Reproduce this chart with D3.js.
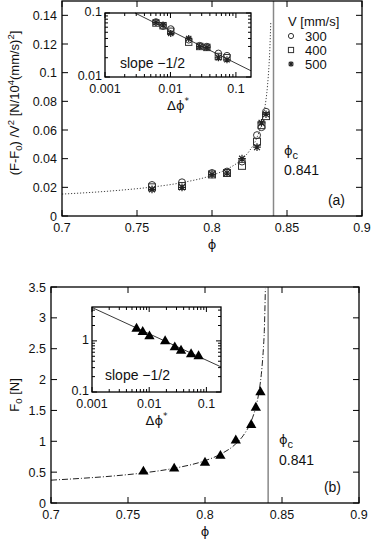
<!DOCTYPE html>
<html>
<head>
<meta charset="utf-8">
<script src="https://cdn.jsdelivr.net/npm/d3@7"></script>
<style>
  body { margin: 0; background: #fff; }
  svg { display: block; font-family: "Liberation Sans", Arial, sans-serif; }
  text { fill: #111; }
  .gr { font-family: "DejaVu Sans", sans-serif; }
</style>
</head>
<body>
<script>
// packing fraction of the runs
var phi = [0.76, 0.78, 0.80, 0.81, 0.82, 0.83, 0.833, 0.836];
// reduced distance to jamming, as plotted in the insets
var dphiStar = [0.073, 0.054, 0.036, 0.028, 0.019, 0.0101, 0.0077, 0.0060];
// (F-F0)/V^2 for the three speeds
var v300 = [0.0216, 0.0235, 0.030, 0.031, 0.038, 0.0564, 0.062, 0.0727];
var v400 = [0.0200, 0.0209, 0.029, 0.030, 0.035, 0.0518, 0.0634, 0.0697];
var v500 = [0.0186, 0.0200, 0.029, 0.030, 0.040, 0.0480, 0.065, 0.0710];
// F0 in N
var f0 = [0.525, 0.573, 0.67, 0.78, 1.03, 1.28, 1.56, 1.81];

// fitted curves
var fitPhi = [0.70, 0.72, 0.74, 0.76, 0.78, 0.80, 0.81, 0.82, 0.825, 0.83, 0.833, 0.835, 0.837, 0.838, 0.8385, 0.8392];
var fitA = [0.0153, 0.0165, 0.0181, 0.0202, 0.0233, 0.0284, 0.0327, 0.0397, 0.0455, 0.0548, 0.0643, 0.0742, 0.0909, 0.105, 0.115, 0.1355];
var fitB = [0.370, 0.400, 0.437, 0.488, 0.563, 0.686, 0.789, 0.959, 1.099, 1.325, 1.554, 1.794, 2.199, 2.537, 2.78, 3.47];
// slope -1/2 guide lines in the insets
var slopeA = [[0.00288, 0.1], [0.17, 0.0125]];
var slopeB = [[0.001, 4.5], [0.18, 0.31]];

var phiC = 0.841;
var xTicks = [0.7, 0.75, 0.8, 0.85, 0.9];
var xTickLabels = ["0.7", "0.75", "0.8", "0.85", "0.9"];
var yTicksA = [0, 0.02, 0.04, 0.06, 0.08, 0.1, 0.12, 0.14];
var yTickLabelsA = ["0", "0.02", "0.04", "0.06", "0.08", "0.1", "0.12", "0.14"];
var yTicksB = [0, 0.5, 1, 1.5, 2, 2.5, 3, 3.5];
var yTickLabelsB = ["0", "0.5", "1", "1.5", "2", "2.5", "3", "3.5"];
var speeds = ["300", "400", "500"];

var width = 373, height = 544;
var svg = d3.select("body").append("svg")
  .attr("width", width).attr("height", height);

var fs = 12.5;

function frame(g, x, y) {
  g.append("rect")
    .attr("x", x.range()[0]).attr("y", y.range()[1])
    .attr("width", x.range()[1] - x.range()[0])
    .attr("height", y.range()[0] - y.range()[1])
    .attr("fill", "none").attr("stroke", "#000").attr("stroke-width", 1.3);
}

function linearAxes(x, y, ylabels, yvals) {
  var g = svg.append("g");
  var x0 = x.range()[0], x1 = x.range()[1], y0 = y.range()[0], y1 = y.range()[1];
  // bottom + top ticks
  xTicks.forEach(function(t, i) {
    g.append("line").attr("x1", x(t)).attr("x2", x(t)).attr("y1", y0).attr("y2", y0 - 6).attr("stroke", "#000");
    g.append("line").attr("x1", x(t)).attr("x2", x(t)).attr("y1", y1).attr("y2", y1 + 6).attr("stroke", "#000");
    g.append("text").attr("x", x(t)).attr("y", y0 + 16).attr("text-anchor", "middle")
      .attr("font-size", fs).text(xTickLabels[i]);
  });
  yvals.forEach(function(t, i) {
    g.append("line").attr("x1", x0).attr("x2", x0 + 6).attr("y1", y(t)).attr("y2", y(t)).attr("stroke", "#000");
    g.append("line").attr("x1", x1).attr("x2", x1 - 6).attr("y1", y(t)).attr("y2", y(t)).attr("stroke", "#000");
    g.append("text").attr("x", x0 - 5).attr("y", y(t) + 4.5).attr("text-anchor", "end")
      .attr("font-size", fs).text(ylabels[i]);
  });
  // phi label
  g.append("text").attr("class", "gr").attr("x", (x0 + x1) / 2).attr("y", y0 + 33).attr("text-anchor", "middle")
    .attr("font-size", 13).text("ϕ");
  // jamming line
  g.append("line").attr("x1", x(phiC)).attr("x2", x(phiC)).attr("y1", y0).attr("y2", y1)
    .attr("stroke", "#888").attr("stroke-width", 1.5);
  frame(g, x, y);
  return g;
}

function logAxes(x, y, xlabs, ylabs) {
  var g = svg.append("g");
  var x0 = x.range()[0], x1 = x.range()[1], y0 = y.range()[0], y1 = y.range()[1];
  var xd = x.domain(), yd = y.domain();
  var minor = function(d) {
    var out = [];
    for (var e = Math.floor(Math.log10(d[0])); e <= Math.ceil(Math.log10(d[1])); e++) {
      for (var m = 1; m < 10; m++) {
        var v = m * Math.pow(10, e);
        if (v >= d[0] * 0.999 && v <= d[1] * 1.001) out.push({ v: v, major: m === 1 });
      }
    }
    return out;
  };
  minor(xd).forEach(function(t) {
    var L = t.major ? 5 : 3;
    g.append("line").attr("x1", x(t.v)).attr("x2", x(t.v)).attr("y1", y0).attr("y2", y0 - L).attr("stroke", "#000");
    g.append("line").attr("x1", x(t.v)).attr("x2", x(t.v)).attr("y1", y1).attr("y2", y1 + L).attr("stroke", "#000");
  });
  minor(yd).forEach(function(t) {
    var L = t.major ? 5 : 3;
    g.append("line").attr("x1", x0).attr("x2", x0 + L).attr("y1", y(t.v)).attr("y2", y(t.v)).attr("stroke", "#000");
    g.append("line").attr("x1", x1).attr("x2", x1 - L).attr("y1", y(t.v)).attr("y2", y(t.v)).attr("stroke", "#000");
  });
  xlabs.forEach(function(l) {
    g.append("text").attr("x", x(+l)).attr("y", y0 + 16).attr("text-anchor", "middle")
      .attr("font-size", fs).text(l);
  });
  ylabs.forEach(function(l) {
    g.append("text").attr("x", x0 - 3).attr("y", y(+l) + 3).attr("text-anchor", "end")
      .attr("font-size", fs).text(l);
  });
  var t = g.append("text").attr("class", "gr").attr("x", (x0 + x1) / 2).attr("y", y0 + 33).attr("text-anchor", "middle")
    .attr("font-size", 13);
  t.append("tspan").text("Δϕ");
  t.append("tspan").attr("dy", -6).attr("font-size", 9).text("*");
  return g;
}

// marker shapes
function drawMarker(g, kind, cx, cy, s) {
  if (kind === "circle") {
    g.append("circle").attr("cx", cx).attr("cy", cy).attr("r", s)
      .attr("fill", "none").attr("stroke", "#333").attr("stroke-width", 1);
  } else if (kind === "square") {
    g.append("rect").attr("x", cx - s).attr("y", cy - s).attr("width", 2 * s).attr("height", 2 * s)
      .attr("fill", "none").attr("stroke", "#333").attr("stroke-width", 1);
  } else {
    var r = s * 1.1, q = r * 0.75;
    g.append("path")
      .attr("d", "M" + (cx - r) + "," + cy + "H" + (cx + r) + "M" + cx + "," + (cy - r) + "V" + (cy + r) +
        "M" + (cx - q) + "," + (cy - q) + "L" + (cx + q) + "," + (cy + q) +
        "M" + (cx - q) + "," + (cy + q) + "L" + (cx + q) + "," + (cy - q))
      .attr("stroke", "#222").attr("stroke-width", 1.2).attr("fill", "none");
  }
}

var kinds = ["circle", "square", "star"];
var seriesA = [v300, v400, v500];

// ---------- panel (a) ----------
var xA = d3.scaleLinear().domain([0.7, 0.9]).range([62, 362]);
var yA = d3.scaleLinear().domain([0, 0.15]).range([216, 1]);

svg.append("path")
  .datum(fitPhi.map(function(p, i) { return [p, fitA[i]]; }))
  .attr("d", d3.line().x(function(d) { return xA(d[0]); }).y(function(d) { return yA(d[1]); }).curve(d3.curveMonotoneX))
  .attr("fill", "none").attr("stroke", "#444").attr("stroke-width", 1).attr("stroke-dasharray", "1.2,1.8");

linearAxes(xA, yA, yTickLabelsA, yTicksA);

var gA = svg.append("g");
seriesA.forEach(function(vals, k) {
  vals.forEach(function(v, i) { drawMarker(gA, kinds[k], xA(phi[i]), yA(v), 3.5); });
});

// legend
var leg = svg.append("g").attr("font-size", 13);
leg.append("text").attr("x", 288).attr("y", 26).text("V [mm/s]");
speeds.forEach(function(s, k) {
  var yy = 36 + k * 14;
  drawMarker(leg, kinds[k], 291, yy, 2.6);
  leg.append("text").attr("x", 305).attr("y", yy + 5).text(s);
});

// phi_c label
var pc = svg.append("text").attr("x", 284).attr("y", 155).attr("font-size", 13);
pc.append("tspan").attr("class", "gr").text("ϕ");
pc.append("tspan").attr("dy", 4).attr("font-size", 11).text("c");
svg.append("text").attr("x", 284).attr("y", 175).attr("font-size", 14).text("0.841");
svg.append("text").attr("x", 345).attr("y", 205).attr("text-anchor", "end").attr("font-size", 14).text("(a)");

// y label (a)
var yla = svg.append("text").attr("transform", "translate(19,103) rotate(-90)")
  .attr("text-anchor", "middle").attr("font-size", 13);
yla.append("tspan").text("(F-F");
yla.append("tspan").attr("dy", 3).attr("font-size", 9.5).text("0");
yla.append("tspan").attr("dy", -3).text(") /V");
yla.append("tspan").attr("dy", -5).attr("font-size", 9.5).text("2");
yla.append("tspan").attr("dy", 5).text(" [N/10");
yla.append("tspan").attr("dy", -5).attr("font-size", 9.5).text("4");
yla.append("tspan").attr("dy", 5).text("(mm/s)");
yla.append("tspan").attr("dy", -5).attr("font-size", 9.5).text("2");
yla.append("tspan").attr("dy", 5).text("]");

// inset (a)
var xIA = d3.scaleLog().domain([0.001, 0.17]).range([105, 251]);
var yIA = d3.scaleLog().domain([0.01, 0.1]).range([77, 13]);
svg.append("rect").attr("x", 105).attr("y", 13).attr("width", 146).attr("height", 64).attr("fill", "#fff");
var gIA = svg.append("g");
gIA.append("path").datum(slopeA)
  .attr("d", d3.line().x(function(d) { return xIA(d[0]); }).y(function(d) { return yIA(d[1]); }))
  .attr("stroke", "#222").attr("stroke-width", 0.9).attr("fill", "none");
seriesA.forEach(function(vals, k) {
  vals.forEach(function(v, i) { drawMarker(gIA, kinds[k], xIA(dphiStar[i]), yIA(v), 3.2); });
});
gIA.append("text").attr("x", 120).attr("y", 68).attr("font-size", 14).text("slope −1/2");
var axIA = logAxes(xIA, yIA, ["0.001", "0.01", "0.1"], ["0.01", "0.1"]);
frame(axIA, xIA, yIA);

// ---------- panel (b) ----------
var xB = d3.scaleLinear().domain([0.7, 0.9]).range([51, 359]);
var yB = d3.scaleLinear().domain([0, 3.5]).range([503, 287]);

svg.append("path")
  .datum(fitPhi.map(function(p, i) { return [p, fitB[i]]; }))
  .attr("d", d3.line().x(function(d) { return xB(d[0]); }).y(function(d) { return yB(d[1]); }).curve(d3.curveMonotoneX))
  .attr("fill", "none").attr("stroke", "#222").attr("stroke-width", 1).attr("stroke-dasharray", "6,2,1,2");

linearAxes(xB, yB, yTickLabelsB, yTicksB);

var tri = d3.symbol().type(d3.symbolTriangle).size(46);
svg.append("g").selectAll("path").data(f0).enter().append("path")
  .attr("d", tri)
  .attr("transform", function(d, i) { return "translate(" + xB(phi[i]) + "," + (yB(d) + 1) + ")"; })
  .attr("fill", "#000");

var pc2 = svg.append("text").attr("x", 279).attr("y", 444).attr("font-size", 13);
pc2.append("tspan").attr("class", "gr").text("ϕ");
pc2.append("tspan").attr("dy", 4).attr("font-size", 11).text("c");
svg.append("text").attr("x", 279).attr("y", 465).attr("font-size", 14).text("0.841");
svg.append("text").attr("x", 341).attr("y", 492).attr("text-anchor", "end").attr("font-size", 14).text("(b)");

var ylb = svg.append("text").attr("transform", "translate(19,395) rotate(-90)")
  .attr("text-anchor", "middle").attr("font-size", 13);
ylb.append("tspan").text("F");
ylb.append("tspan").attr("dy", 3).attr("font-size", 9.5).text("0");
ylb.append("tspan").attr("dy", -3).text(" [N]");

// inset (b)
var xIB = d3.scaleLog().domain([0.001, 0.18]).range([92, 221]);
var yIB = d3.scaleLog().domain([0.1, 4.6]).range([392, 307]);
svg.append("rect").attr("x", 92).attr("y", 307).attr("width", 129).attr("height", 85).attr("fill", "#fff");
var gIB = svg.append("g");
gIB.append("path").datum(slopeB)
  .attr("d", d3.line().x(function(d) { return xIB(d[0]); }).y(function(d) { return yIB(d[1]); }))
  .attr("stroke", "#222").attr("stroke-width", 0.9).attr("fill", "none");
gIB.selectAll("path.t").data(f0).enter().append("path").attr("class", "t")
  .attr("d", tri)
  .attr("transform", function(d, i) { return "translate(" + xIB(dphiStar[i]) + "," + (yIB(d) + 1) + ")"; })
  .attr("fill", "#000");
gIB.append("text").attr("x", 105).attr("y", 380).attr("font-size", 14).text("slope −1/2");
var axIB = logAxes(xIB, yIB, ["0.001", "0.01", "0.1"], ["0.1", "1"]);
frame(axIB, xIB, yIB);
</script>
</body>
</html>
